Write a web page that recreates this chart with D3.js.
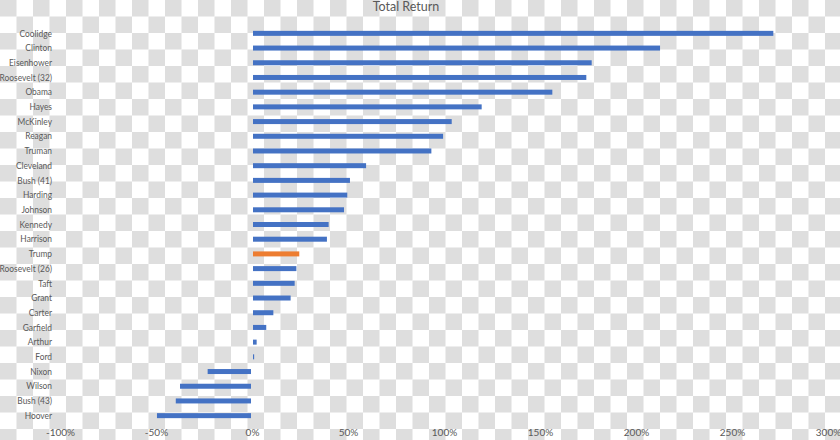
<!DOCTYPE html>
<html>
<head>
<meta charset="utf-8">
<script src="https://cdn.jsdelivr.net/npm/d3@7"></script>
<style>
  body { margin: 0; }
  text { font-family: Lato, "Open Sans", sans-serif; fill: #595959; }
</style>
</head>
<body>
<div id="chart"></div>
<script>
// presidents, top to bottom
let presidents = ['Coolidge', 'Clinton', 'Eisenhower', 'Roosevelt (32)', 'Obama', 'Hayes',
    'McKinley', 'Reagan', 'Truman', 'Cleveland', 'Bush (41)', 'Harding', 'Johnson',
    'Kennedy', 'Harrison', 'Trump', 'Roosevelt (26)', 'Taft', 'Grant', 'Carter',
    'Garfield', 'Arthur', 'Ford', 'Nixon', 'Wilson', 'Bush (43)', 'Hoover'];

let totalReturn = [2.71, 2.12, 1.764, 1.736, 1.559, 1.191, 1.035, 0.99, 0.929, 0.589,
    0.505, 0.491, 0.474, 0.394, 0.385, 0.241, 0.226, 0.217, 0.196, 0.106,
    0.069, 0.019, 0.006, -0.231, -0.375, -0.397, -0.495];

let highlighted = ['Trump'];

let xTicks = [-1, -0.5, 0, 0.5, 1, 1.5, 2, 2.5, 3];

let width = 840,
    height = 440,
    cell = 16.5;

let svg = d3.select('#chart').append('svg')
    .attr('width', width)
    .attr('height', height);

// transparency checkerboard behind the chart
let pat = svg.append('defs').append('pattern')
    .attr('id', 'checker')
    .attr('patternUnits', 'userSpaceOnUse')
    .attr('width', cell * 2)
    .attr('height', cell * 2);
pat.append('rect').attr('width', cell * 2).attr('height', cell * 2).attr('fill', '#ffffff');
pat.append('rect').attr('width', cell).attr('height', cell).attr('fill', '#dedede');
pat.append('rect').attr('x', cell).attr('y', cell).attr('width', cell).attr('height', cell).attr('fill', '#dedede');

svg.append('rect')
    .attr('width', width)
    .attr('height', height)
    .attr('fill', 'url(#checker)');

let xScale = d3.scaleLinear()
    .domain([-1, 3])
    .range([60, 828]);

let yScale = d3.scaleBand()
    .domain(presidents)
    .range([26, 423])
    .paddingInner(0.66)
    .paddingOuter(0.33);

let data = presidents.map((p, i) => ({name: p, value: totalReturn[i]}));

svg.append('g')
    .attr('class', 'bars')
    .selectAll('rect')
    .data(data)
    .join('rect')
    .attr('x', d => d.value >= 0 ? xScale(0) + 1 : xScale(d.value))
    .attr('y', d => yScale(d.name))
    .attr('width', d => Math.max(0.8, Math.abs(xScale(d.value) - xScale(0)) - (d.value >= 0 ? 0 : 1)))
    .attr('height', yScale.bandwidth())
    .attr('fill', d => highlighted.indexOf(d.name) !== -1 ? '#ed7d31' : '#4472c4');

// category labels, squeezed a bit to get the narrow Calibri look
let yAxis = svg.append('g')
    .attr('class', 'cat')
    .attr('transform', 'translate(52,0) scale(0.84,1)')
    .call(d3.axisLeft(yScale).tickSize(0).tickPadding(0));
yAxis.select('.domain').remove();
yAxis.selectAll('text')
    .style('font-size', '10px')
    .attr('fill', '#595959');

// value axis along the bottom
let xAxis = svg.append('g')
    .attr('transform', 'translate(0,429)')
    .call(d3.axisBottom(xScale).tickValues(xTicks).tickSize(0).tickPadding(0));
xAxis.select('.domain').remove();
xAxis.selectAll('text')
    .style('font-size', '10px')
    .attr('fill', '#595959')
    .text(d => d3.format('.0%')(d).replace('−', '-'));

svg.append('text')
    .attr('x', 406)
    .attr('y', 11)
    .attr('text-anchor', 'middle')
    .style('font-size', '12.5px')
    .text('Total Return');
</script>
</body>
</html>
